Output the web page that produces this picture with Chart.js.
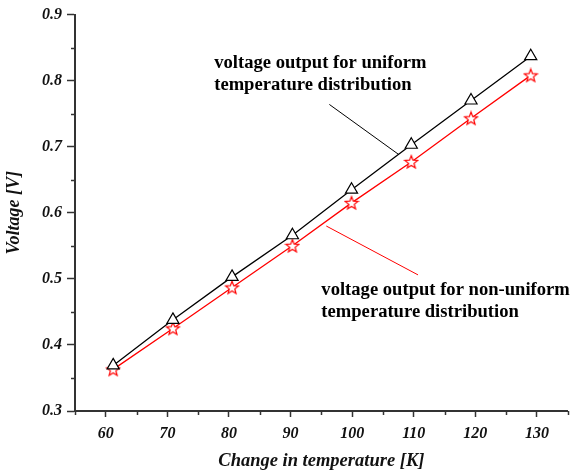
<!DOCTYPE html>
<html>
<head>
<meta charset="utf-8">
<script src="https://cdn.jsdelivr.net/npm/chart.js@4/dist/chart.umd.min.js"></script>
<style>
html,body{margin:0;padding:0;background:#fff;}
#wrap{width:576px;height:475px;}
</style>
</head>
<body>
<div id="wrap"><canvas id="c" width="576" height="475"></canvas></div>
<script>
// ---- data ----
const tempChange = [61.2, 70.9, 80.5, 90.3, 99.9, 109.6, 119.3, 129.0];
const vUniform = [0.369, 0.438, 0.503, 0.566, 0.635, 0.703, 0.770, 0.837];
const vNonUniform = [0.363, 0.425, 0.487, 0.550, 0.615, 0.677, 0.743, 0.808];
const xTicks = [60, 70, 80, 90, 100, 110, 120, 130];
const yTicks = [0.3, 0.4, 0.5, 0.6, 0.7, 0.8, 0.9];
const xMinor = [55, 65, 75, 85, 95, 105, 115, 125, 135];
const yMinor = [0.35, 0.45, 0.55, 0.65, 0.75, 0.85];
const labelUniform = ['voltage output for uniform', 'temperature distribution'];
const labelNonUniform = ['voltage output for non-uniform', 'temperature distribution'];
// annotation anchors in data units
const uniformText = {x: 77.6, y: 0.826};
const uniformLeader = [{x: 96.3, y: 0.764}, {x: 107.6, y: 0.688}];
const nonUniformText = {x: 95.0, y: 0.483};
const nonUniformLeader = [{x: 95.8, y: 0.580}, {x: 110.7, y: 0.506}];

const serif = "'Liberation Serif', 'Times New Roman', serif";
const axisColor = '#333333';

// star marker
function makeStar(color){
  const s = 16, c = document.createElement('canvas');
  c.width = s; c.height = s;
  const g = c.getContext('2d');
  const cx = s/2, cy = s/2 + 0.5, R = 6.8, r = 2.9;
  g.beginPath();
  for(let i=0;i<10;i++){
    const a = -Math.PI/2 + i*Math.PI/5;
    const rad = i%2===0 ? R : r;
    const px = cx + rad*Math.cos(a), py = cy + rad*Math.sin(a);
    if(i===0) g.moveTo(px,py); else g.lineTo(px,py);
  }
  g.closePath();
  g.fillStyle = '#ffffff';
  g.fill();
  g.strokeStyle = color; g.lineWidth = 1.2;
  g.stroke();
  return c;
}
const starImg = makeStar('#ff0000');

const extras = {
  id: 'extras',
  afterDraw(chart){
    const ctx = chart.ctx, xs = chart.scales.x, ys = chart.scales.y;
    ctx.save();
    // minor ticks
    ctx.strokeStyle = axisColor; ctx.lineWidth = 1.5;
    const yb = ys.bottom, xl = xs.left;
    xMinor.forEach(v=>{
      const px = Math.round(xs.getPixelForValue(v))+0.5;
      ctx.beginPath(); ctx.moveTo(px, yb); ctx.lineTo(px, yb+4); ctx.stroke();
    });
    yMinor.forEach(v=>{
      const py = Math.round(ys.getPixelForValue(v))+0.5;
      ctx.beginPath(); ctx.moveTo(xl, py); ctx.lineTo(xl-4, py); ctx.stroke();
    });
    // leader lines
    ctx.lineWidth = 1;
    ctx.strokeStyle = '#000000';
    ctx.beginPath();
    ctx.moveTo(xs.getPixelForValue(uniformLeader[0].x), ys.getPixelForValue(uniformLeader[0].y));
    ctx.lineTo(xs.getPixelForValue(uniformLeader[1].x), ys.getPixelForValue(uniformLeader[1].y));
    ctx.stroke();
    ctx.strokeStyle = '#ff0000';
    ctx.beginPath();
    ctx.moveTo(xs.getPixelForValue(nonUniformLeader[0].x), ys.getPixelForValue(nonUniformLeader[0].y));
    ctx.lineTo(xs.getPixelForValue(nonUniformLeader[1].x), ys.getPixelForValue(nonUniformLeader[1].y));
    ctx.stroke();
    // annotation text
    ctx.fillStyle = '#000000';
    ctx.font = "bold 18.6px " + serif;
    ctx.textAlign = 'left'; ctx.textBaseline = 'middle';
    const lh = 22;
    let tx = xs.getPixelForValue(uniformText.x), ty = ys.getPixelForValue(uniformText.y);
    labelUniform.forEach((t,i)=>ctx.fillText(t, tx, ty + i*lh));
    tx = xs.getPixelForValue(nonUniformText.x); ty = ys.getPixelForValue(nonUniformText.y);
    labelNonUniform.forEach((t,i)=>ctx.fillText(t, tx, ty + i*lh));
    ctx.restore();
  }
};

new Chart(document.getElementById('c'), {
  type: 'scatter',
  data: {
    datasets: [
      {
        label: 'uniform',
        data: tempChange.map((x,i)=>({x, y: vUniform[i]})),
        showLine: true,
        borderColor: '#000000',
        borderWidth: 1.3,
        pointStyle: 'triangle',
        pointRadius: 7,
        pointBackgroundColor: '#ffffff',
        pointBorderColor: '#000000',
        pointBorderWidth: 1.2
      },
      {
        label: 'non-uniform',
        data: tempChange.map((x,i)=>({x, y: vNonUniform[i]})),
        showLine: true,
        borderColor: '#ff0000',
        borderWidth: 1.3,
        pointStyle: starImg,
        pointRadius: 7
      }
    ]
  },
  options: {
    responsive: false,
    animation: false,
    devicePixelRatio: 1,
    layout: {padding: {left: 0, top: 12, right: 8, bottom: 0}},
    plugins: {legend: {display: false}, tooltip: {enabled: false}},
    scales: {
      x: {
        type: 'linear', min: 55, max: 135,
        afterBuildTicks: s => { s.ticks = xTicks.map(v=>({value: v})); },
        afterFit: s => { s.height = 64; },
        grid: {display: true, drawOnChartArea: false, drawTicks: true, tickLength: 6, tickWidth: 1.5, tickColor: axisColor},
        border: {display: true, color: axisColor, width: 2},
        ticks: {color: '#111111', padding: 7, maxRotation: 0, autoSkip: false,
                font: {family: serif, size: 16, weight: 'bold', style: 'italic'}},
        title: {display: true, text: 'Change in temperature [K]', color: '#111111',
                padding: {top: 0, bottom: 3},
                font: {family: serif, size: 18.5, weight: 'bold', style: 'italic'}}
      },
      y: {
        type: 'linear', min: 0.3, max: 0.9,
        afterBuildTicks: s => { s.ticks = yTicks.map(v=>({value: v})); },
        afterFit: s => { s.width = 75; },
        grid: {display: true, drawOnChartArea: false, drawTicks: true, tickLength: 8, tickWidth: 1.5, tickColor: axisColor},
        border: {display: true, color: axisColor, width: 2},
        ticks: {color: '#111111', padding: 5, autoSkip: false,
                callback: v => v.toFixed(1),
                font: {family: serif, size: 16, weight: 'bold', style: 'italic'}},
        title: {display: true, text: 'Voltage [V]', color: '#111111',
                padding: {top: 4, bottom: 0},
                font: {family: serif, size: 18, weight: 'bold', style: 'italic'}}
      }
    }
  },
  plugins: [extras]
});
</script>
</body>
</html>
